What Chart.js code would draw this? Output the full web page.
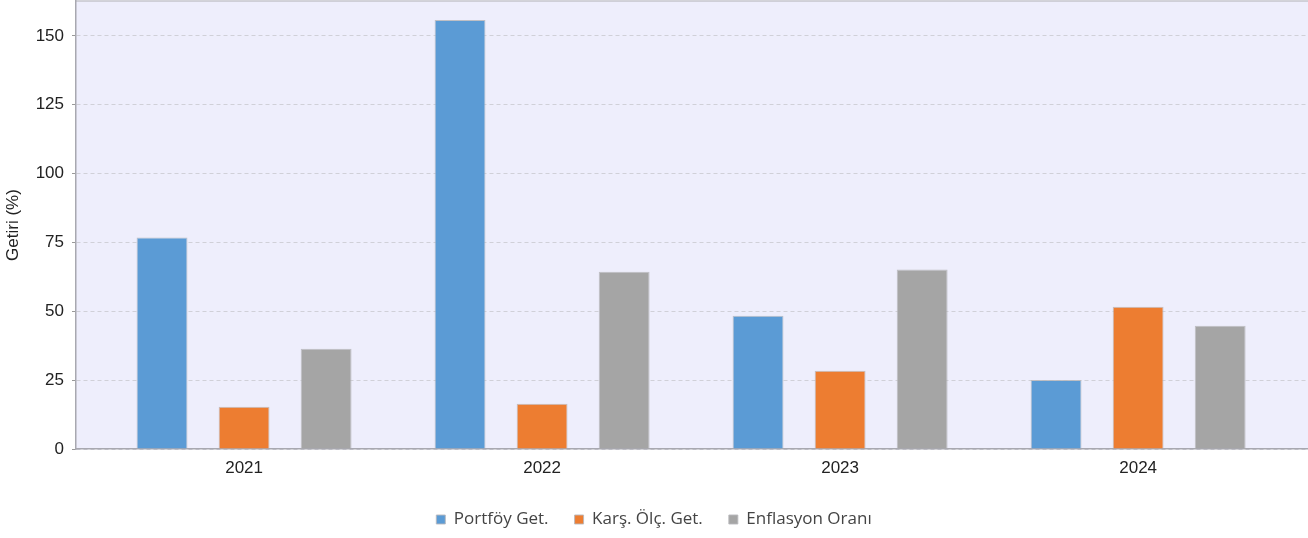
<!DOCTYPE html>
<html>
<head>
<meta charset="utf-8">
<script src="https://cdn.jsdelivr.net/npm/chart.js@4.4.1/dist/chart.umd.min.js"></script>
<style>
  html, body { margin: 0; padding: 0; background: #fff; }
  #wrap { width: 1308px; height: 538px; }
</style>
</head>
<body>
<div id="wrap"><canvas id="getiriChart"></canvas></div>
<script>
// data
const years = ['2021', '2022', '2023', '2024'];
const portfoyGet = [76.8, 155.8, 48.4, 25.1];
const karsOlcGet = [15.3, 16.4, 28.4, 51.7];
const enflasyon = [36.4, 64.4, 65.2, 44.8];
const yTicks = [0, 25, 50, 75, 100, 125, 150];

function toPoints(arr) {
    return arr.map(function(v, i) { return { x: i, y: v }; });
}

// paints the lavender plot background and the top frame line
const plotBg = {
    id: 'plotBg',
    beforeDraw: function(chart) {
        const a = chart.chartArea;
        const ctx = chart.ctx;
        ctx.save();
        ctx.fillStyle = 'rgb(238,238,252)';
        ctx.fillRect(a.left, a.top, a.right - a.left, a.bottom - a.top);
        ctx.strokeStyle = '#c4c4cc';
        ctx.lineWidth = 1.5;
        ctx.beginPath();
        ctx.moveTo(a.left, a.top);
        ctx.lineTo(a.right, a.top);
        ctx.stroke();
        ctx.restore();
    }
};

const barStyle = {
    borderColor: 'rgba(185,185,190,0.9)',
    borderWidth: 1,
    categoryPercentage: 0.826,
    barPercentage: 0.62
};

const graph_config = {
    type: 'bar',
    data: {
        datasets: [
            Object.assign({ label: 'Portföy Get.', data: toPoints(portfoyGet), backgroundColor: '#5b9bd5' }, barStyle),
            Object.assign({ label: 'Karş. Ölç. Get.', data: toPoints(karsOlcGet), backgroundColor: '#ed7d31' }, barStyle),
            Object.assign({ label: 'Enflasyon Oranı', data: toPoints(enflasyon), backgroundColor: '#a5a5a5' }, barStyle)
        ]
    },
    options: {
        responsive: true,
        maintainAspectRatio: false,
        animation: false,
        layout: { padding: { top: 1, right: 0, left: 0, bottom: 0 } },
        plugins: {
            tooltip: { enabled: false },
            legend: {
                display: true,
                position: 'bottom',
                labels: {
                    color: '#444',
                    boxWidth: 9,
                    boxHeight: 9,
                    padding: 26,
                    font: { family: '"Open Sans"', size: 17 }
                }
            }
        },
        scales: {
            x: {
                type: 'linear',
                min: -0.564,
                max: 3.57,
                offset: false,
                grid: { display: false, drawTicks: false, offset: false },
                border: { color: '#a8a8b0', width: 1.5 },
                afterBuildTicks: function(scale) {
                    scale.ticks = years.map(function(y, i) { return { value: i }; });
                },
                afterFit: function(scale) {
                    scale.height = 36;
                    scale.paddingLeft = 0;
                    scale.paddingRight = 0;
                },
                ticks: {
                    color: '#222',
                    padding: 9,
                    font: { family: '"Liberation Sans", Arial', size: 17 },
                    callback: function(v) { return years[v]; }
                }
            },
            y: {
                min: 0,
                max: 162.7,
                afterBuildTicks: function(scale) {
                    scale.ticks = yTicks.map(function(v) { return { value: v }; });
                },
                afterFit: function(scale) {
                    scale.width = 76;
                    scale.paddingTop = 0;
                    scale.paddingBottom = 0;
                },
                grid: {
                    color: '#d0d0d8',
                    lineWidth: 1,
                    tickLength: 4,
                    tickColor: '#999',
                    tickBorderDash: []
                },
                border: { color: '#a8a8b0', width: 1.5, dash: [4, 3] },
                title: {
                    display: true,
                    text: 'Getiri (%)',
                    color: '#222',
                    padding: { top: 3, bottom: 0 },
                    font: { family: '"Liberation Sans", Arial', size: 17 }
                },
                ticks: {
                    color: '#222',
                    padding: 8,
                    font: { family: '"Liberation Sans", Arial', size: 17 }
                }
            }
        }
    },
    plugins: [plotBg]
};

const getiriChart = new Chart(document.getElementById('getiriChart'), graph_config);
</script>
</body>
</html>
